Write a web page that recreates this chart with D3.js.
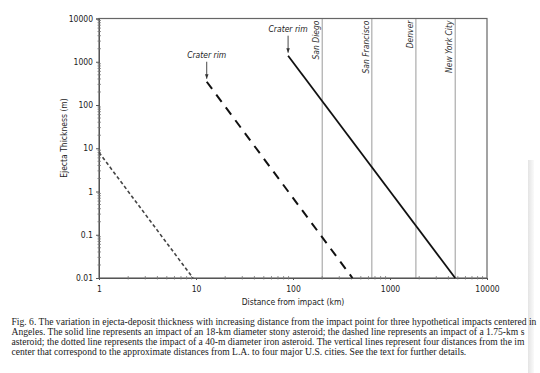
<!DOCTYPE html>
<html>
<head>
<meta charset="utf-8">
<script src="https://cdn.jsdelivr.net/npm/d3@7"></script>
<style>
  body { margin: 0; background: #fff; }
  svg { display: block; }
  .sans { font-family: "Liberation Sans Narrow", "DejaVu Sans Condensed", "Open Sans", sans-serif; font-stretch: condensed; }
  .serif { font-family: "Liberation Serif", "DejaVu Serif", serif; }
</style>
</head>
<body>
<div id="chart"></div>
<script>
var width = 540, height = 373;

// distances (km) and thicknesses (m)
var xTicks = [1, 10, 100, 1000, 10000];
var yTicks = [0.01, 0.1, 1, 10, 100, 1000, 10000];

var cities = ["San Diego", "San Francisco", "Denver", "New York City"];
var cityDist = [200, 650, 1850, 4700];

var solidDist = [89, 4700];
var solidThick = [1380, 0.01];
var dashedDist = [12.9, 410];
var dashedThick = [345, 0.01];
var dottedDist = [1, 9.3];
var dottedThick = [8, 0.01];

// caption as it shows in the (cropped) figure
var captionLines = [
    "Fig. 6. The variation in ejecta-deposit thickness with increasing distance from the impact point for three hypothetical impacts centered in",
    "Angeles. The solid line represents an impact of an 18-km diameter stony asteroid; the dashed line represents an impact of a 1.75-km s",
    "asteroid; the dotted line represents the impact of a 40-m diameter iron asteroid. The vertical lines represent four distances from the im",
    "center that correspond to the approximate distances from L.A. to four major U.S. cities. See the text for further details."
];

var svg = d3.select("#chart").append("svg")
    .attr("width", width)
    .attr("height", height);

// faint page-edge shadow on the right
var defs = svg.append("defs");
var grad = defs.append("linearGradient")
    .attr("id", "edge").attr("x1", "0").attr("x2", "1");
grad.append("stop").attr("offset", "0").attr("stop-color", "#e4e4e4");
grad.append("stop").attr("offset", "1").attr("stop-color", "#fafafa");
svg.append("rect")
    .attr("x", 528).attr("y", 160).attr("width", 6).attr("height", 213)
    .attr("fill", "url(#edge)");

defs.append("marker")
    .attr("id", "arrow")
    .attr("viewBox", "0 0 10 10")
    .attr("refX", 10).attr("refY", 5)
    .attr("markerWidth", 5).attr("markerHeight", 5)
    .attr("orient", "auto")
    .append("path")
    .attr("d", "M0,1L10,5L0,9Z")
    .attr("fill", "#333");

var x = d3.scaleLog().domain([1, 10000]).range([99, 487]);
var y = d3.scaleLog().domain([0.01, 10000]).range([278, 18.5]);

var fmt = function(d) { return String(+d.toPrecision(3)); };

// minor ticks
var xMinor = [], yMinor = [];
for (var e = 0; e < 4; e++) for (var k = 2; k < 10; k++) xMinor.push(k * Math.pow(10, e));
for (var e2 = -2; e2 < 4; e2++) for (var k2 = 2; k2 < 10; k2++) yMinor.push(k2 * Math.pow(10, e2));

var g = svg.append("g");

// city reference lines
g.selectAll(".city")
    .data(cityDist)
    .enter().append("line")
    .attr("class", "city")
    .attr("x1", d => x(d)).attr("x2", d => x(d))
    .attr("y1", y.range()[1]).attr("y2", y.range()[0])
    .attr("stroke", "#9a9a9a").attr("stroke-width", 1);

g.selectAll(".cityLabel")
    .data(cities)
    .enter().append("text")
    .attr("class", "sans")
    .attr("transform", (d, i) => "translate(" + (x(cityDist[i]) - 3) + "," + (y.range()[1] + 2) + ") rotate(-90)")
    .attr("text-anchor", "end")
    .attr("font-size", 8.5)
    .attr("font-style", "italic")
    .attr("fill", "#333")
    .text(d => d);

// frame
g.append("rect")
    .attr("x", 99).attr("y", 18.5)
    .attr("width", 388).attr("height", 259.5)
    .attr("fill", "none")
    .attr("stroke", "#666").attr("stroke-width", 1.2);

// axes
var xAxis = d3.axisBottom(x).tickValues(xTicks).tickFormat(fmt).tickSize(2);
var yAxis = d3.axisLeft(y).tickValues(yTicks).tickFormat(fmt).tickSize(3);

var gx = g.append("g").attr("transform", "translate(0,278)").call(xAxis);
var gy = g.append("g").attr("transform", "translate(99,0)").call(yAxis);
[gx, gy].forEach(function(a) {
    a.select(".domain").attr("stroke", "#555");
    a.selectAll(".tick line").attr("stroke", "#555");
    a.selectAll("text").attr("class", "sans").attr("font-size", 8.5).attr("fill", "#222");
});
gx.selectAll("text").attr("dy", "1.1em");
gy.selectAll("text").attr("x", -6);

g.append("g").selectAll("line")
    .data(xMinor).enter().append("line")
    .attr("x1", d => x(d)).attr("x2", d => x(d))
    .attr("y1", 276).attr("y2", 279.5)
    .attr("stroke", "#777").attr("stroke-width", 0.8);
g.append("g").selectAll("line")
    .data(yMinor).enter().append("line")
    .attr("x1", 97.5).attr("x2", 101)
    .attr("y1", d => y(d)).attr("y2", d => y(d))
    .attr("stroke", "#777").attr("stroke-width", 0.8);

// axis titles
svg.append("text")
    .attr("class", "sans")
    .attr("x", 293).attr("y", 305)
    .attr("text-anchor", "middle")
    .attr("font-size", 8.5).attr("fill", "#222")
    .text("Distance from impact (km)");

svg.append("text")
    .attr("class", "sans")
    .attr("transform", "translate(67,138) rotate(-90)")
    .attr("text-anchor", "middle")
    .attr("font-size", 8.5).attr("fill", "#222")
    .text("Ejecta Thickness (m)");

// the three ejecta curves
var line = d3.line().x(d => x(d[0])).y(d => y(d[1]));

g.append("path")
    .datum(d3.zip(solidDist, solidThick))
    .attr("d", line)
    .attr("fill", "none").attr("stroke", "#111").attr("stroke-width", 1.8);

g.append("path")
    .datum(d3.zip(dashedDist, dashedThick))
    .attr("d", line)
    .attr("fill", "none").attr("stroke", "#111").attr("stroke-width", 2)
    .attr("stroke-dasharray", "9,7");

g.append("path")
    .datum(d3.zip(dottedDist, dottedThick))
    .attr("d", line)
    .attr("fill", "none").attr("stroke", "#444").attr("stroke-width", 1.6)
    .attr("stroke-dasharray", "3.5,2.5");

// crater rim annotations
var rims = [[dashedDist[0], dashedThick[0]], [solidDist[0], solidThick[0]]];
rims.forEach(function(r) {
    var px = x(r[0]), py = y(r[1]);
    g.append("line")
        .attr("x1", px).attr("x2", px)
        .attr("y1", py - 20).attr("y2", py - 3)
        .attr("stroke", "#333").attr("stroke-width", 0.9)
        .attr("marker-end", "url(#arrow)");
    g.append("text")
        .attr("class", "sans")
        .attr("x", px).attr("y", py - 24)
        .attr("text-anchor", "middle")
        .attr("font-size", 8.5).attr("font-style", "italic").attr("fill", "#222")
        .text("Crater rim");
});

// caption
svg.append("g").selectAll("text")
    .data(captionLines).enter().append("text")
    .attr("class", "serif")
    .attr("x", 11.5)
    .attr("y", (d, i) => 324.5 + i * 10)
    .attr("font-size", 9.6)
    .attr("fill", "#1a1a1a")
    .text(d => d);
</script>
</body>
</html>
